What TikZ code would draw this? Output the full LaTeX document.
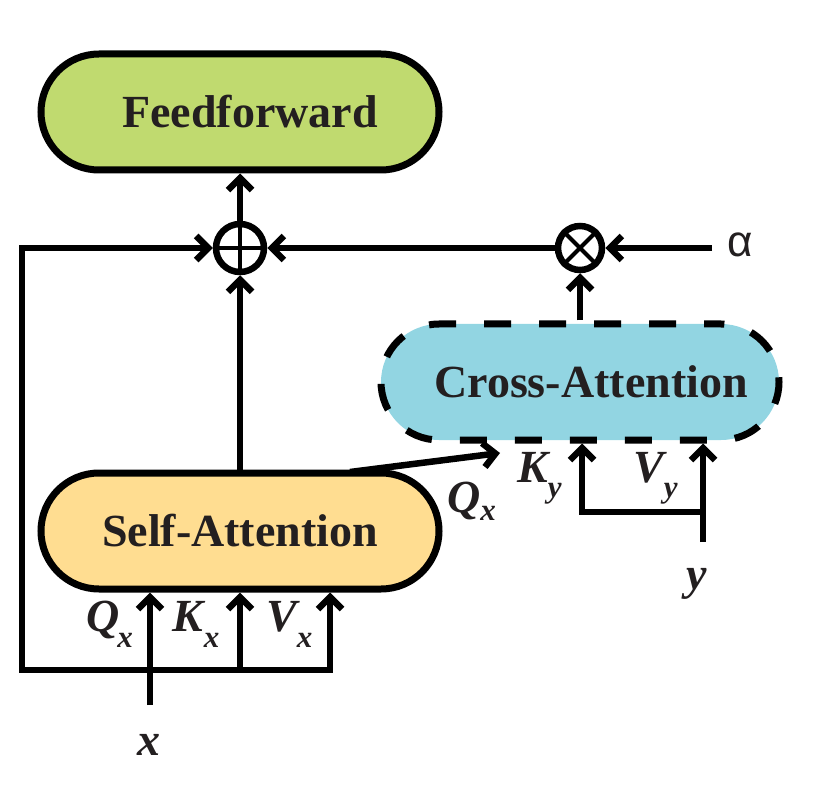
\documentclass[tikz,border=0pt]{standalone}
\usepackage{fontspec}
\setmainfont{Liberation Serif}
\newfontfamily\alphafont{Liberation Sans}
\usetikzlibrary{arrows.meta}
\definecolor{ffgreen}{HTML}{C0DA6F}
\definecolor{cablue}{HTML}{92D5E2}
\definecolor{saorange}{HTML}{FFDD91}
\definecolor{inkc}{HTML}{231F20}
\newcommand{\sublab}[4]{{\fontsize{46}{46}\selectfont\bfseries\itshape #1\kern#2\raisebox{#4}{\fontsize{31}{31}\selectfont #3}}}
\begin{document}
\begin{tikzpicture}[x=1pt,y=-1pt,
  >={Straight Barb[length=12pt,width=24pt]},
  box/.style={rectangle, rounded corners=58pt, minimum width=398pt, minimum height=116pt, line width=7pt, draw=black, font=\fontsize{46}{46}\selectfont\bfseries, text=inkc, inner sep=0pt},
  ln/.style={line width=6.5pt},
  opnode/.style={circle, draw, line width=6.5pt, inner sep=0pt},
  lab/.style={inner sep=0pt, anchor=base west, text=inkc}]
\useasboundingbox (0,0) rectangle (830,810);

% boxes
\node[box, fill=ffgreen] (ff) at (240,112) {\hspace*{20pt}Feedforward};
\node[box, fill=saorange] (sa) at (240,531) {Self-Attention};
\node[box, fill=cablue, dash pattern=on 27pt off 28pt, dash phase=10pt] (ca) at (580,382) {\hspace*{22pt}Cross-Attention};

% operators
\node[opnode, minimum size=48pt] (plus) at (240,248) {};
\draw[line width=4pt] (plus.north) -- (plus.south) (plus.west) -- (plus.east);
\node[opnode, minimum size=44pt] (times) at (580,248) {};
\draw[line width=4pt] (times.north east) -- (times.south west) (times.north west) -- (times.south east);

% alpha
\node[inner sep=0pt, anchor=base, font=\alphafont\fontsize{44}{44}\selectfont, text=inkc] (alpha) at (740,257) {α};
\coordinate (astart) at (712,248);

% coordinates
\coordinate (xin) at (150,705);
\coordinate (vxb) at (330,670);
\coordinate (kxb) at (240,670);
\coordinate (lb) at (22,670);
\coordinate (lt) at (22,248);
\coordinate (qs) at (350,472);
\coordinate (qt) at (500,453);
\coordinate (kyb) at (582,512);
\coordinate (vyb) at (703,512);
\coordinate (yin) at (703,542);

% connectors
\draw[ln,->] (plus.north) -- (ff.south);
\draw[ln,->] (sa.north) -- (plus.south);
\draw[ln,->] (times.west) -- (plus.east);
\draw[ln,->] (astart) -- (times.east);
\draw[ln,->] (ca.north) -- (times.south);
\draw[ln,<->] (vxb |- sa.south) -- (vxb) -- (lb) -- (lt) -- (plus.west);
\draw[ln,->] (xin) -- (xin |- sa.south);
\draw[ln,->] (kxb) -- (kxb |- sa.south);
\draw[ln,->] (qs) -- (qt);
\draw[ln,<-] (kyb |- ca.south) -- (kyb) -- (vyb);
\draw[ln,->] (yin) -- (yin |- ca.south);

% labels
\node[lab] (lqx) at (86,631) {\sublab{Q}{-2pt}{x}{-16pt}};
\node[lab] (lkx) at (172,631) {\sublab{K}{1pt}{x}{-16pt}};
\node[lab] (lvx) at (266,631) {\sublab{V}{0pt}{x}{-16pt}};
\node[lab] (lky) at (517,482) {\sublab{K}{0pt}{y}{-15pt}};
\node[lab] (lvy) at (633,482) {\sublab{V}{0pt}{y}{-15pt}};
\node[lab] (lqy) at (447,512) {\sublab{Q}{0pt}{x}{-8pt}};
\node[inner sep=0pt, anchor=base, text=inkc, font=\fontsize{46}{46}\selectfont\bfseries\itshape] (xl) at (149,755) {x};
\node[inner sep=0pt, anchor=base, text=inkc, font=\fontsize{46}{46}\selectfont\bfseries\itshape] (yl) at (697,589) {y};
\end{tikzpicture}
\end{document}
